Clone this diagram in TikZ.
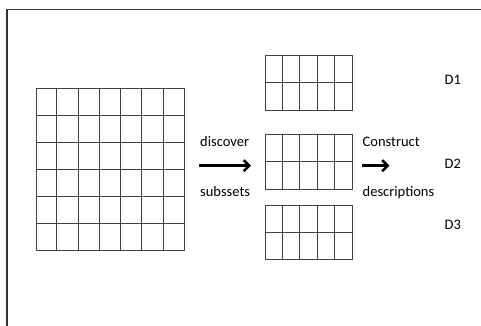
\documentclass[tikz,border=0pt]{standalone}
\usepackage{fontspec}
\setmainfont{Carlito}
\usetikzlibrary{arrows.meta}
\tikzset{
  gridline/.style={draw=black!75, line width=1pt},
  lbl/.style={font=\fontsize{14.5}{16}\selectfont, text=black, inner sep=0pt},
  bigarrow/.style={line width=2.8pt, -{Straight Barb[length=5.5pt,width=11pt,line width=2.6pt]}},
}
\begin{document}
\begin{tikzpicture}[x=1pt,y=-1pt]
\useasboundingbox (0,0) rectangle (481,325);
\clip (0,0) rectangle (481,325);
\fill[white] (0,0) rectangle (481,325);
% outer frame (continues beyond right/bottom edge)
\draw[line width=1.5pt, black!80] (7,340) -- (7,9.5) -- (495,9.5);
% big grid
\node[gridline, minimum width=148.6pt, minimum height=161.7pt, inner sep=0pt, anchor=north west] (big) at (35.7,88.3) {};
\foreach \i in {1,...,6} \draw[gridline] (35.7+\i*21.23,88.3) -- (35.7+\i*21.23,250);
\foreach \j in {1,...,5} \draw[gridline] (35.7,88.3+\j*26.95) -- (184.3,88.3+\j*26.95);
% small grids
\foreach \n/\t/\b in {g1/55.3/110.3, g2/133.7/188.7, g3/205.3/259}{
  \node[gridline, minimum width=86.7pt, minimum height=\b-\t, inner sep=0pt, anchor=north west] (\n) at (265.3,\t) {};
  \foreach \i in {1,...,4} \draw[gridline] (265.3+\i*17.34,\t) -- (265.3+\i*17.34,\b);
  \draw[gridline] (265.3,{(\t+\b)/2}) -- (352,{(\t+\b)/2});
}
% labels
\node[lbl, anchor=west] (disc) at (200,142) {discover};
\node[lbl, anchor=west] (subs) at (200,192) {subssets};
\node[lbl, anchor=west] (cons) at (362.5,142) {Construct};
\node[lbl, anchor=west] (desc) at (362.5,193) {descriptions};
\node[lbl, anchor=west] (d1) at (444.5,80) {D1};
\node[lbl, anchor=west] (d2) at (444.5,163.5) {D2};
\node[lbl, anchor=west] (d3) at (444.5,225) {D3};
% arrows
\coordinate (a1s) at (199,165.7);
\coordinate (a1e) at (251,165.7);
\coordinate (a2s) at (362,165.7);
\coordinate (a2e) at (389.5,165.7);
\draw[bigarrow] (a1s) -- (a1e);
\draw[bigarrow] (a2s) -- (a2e);
\end{tikzpicture}
\end{document}
